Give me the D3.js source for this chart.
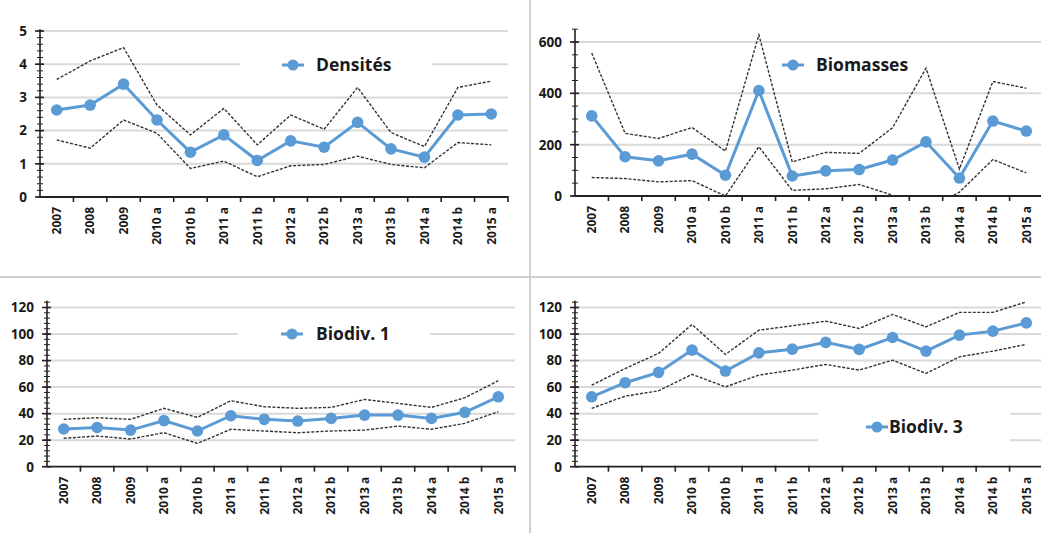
<!DOCTYPE html>
<html>
<head>
<meta charset="utf-8">
<script src="https://cdn.jsdelivr.net/npm/d3@7"></script>
<style>
  html, body { margin: 0; padding: 0; background: #fff; }
  svg { display: block; }
  text { font-family: "Open Sans", "Liberation Sans", sans-serif; font-weight: bold; fill: #1a1a1a; }
</style>
</head>
<body>
<svg id="chart" width="1041" height="533"></svg>
<script>
const categories = ["2007","2008","2009","2010 a","2010 b","2011 a","2011 b","2012 a","2012 b","2013 a","2013 b","2014 a","2014 b","2015 a"];

const densMean = [2.62,2.77,3.40,2.32,1.35,1.87,1.10,1.69,1.50,2.25,1.45,1.20,2.47,2.50];
const densHigh = [3.54,4.10,4.50,2.77,1.87,2.67,1.57,2.47,2.04,3.30,1.94,1.52,3.30,3.49];
const densLow  = [1.72,1.47,2.32,1.92,0.86,1.08,0.61,0.94,0.98,1.23,0.98,0.88,1.64,1.57];
const densTicks = [0,1,2,3,4,5];

const bioMean = [312,153,137,163,81,411,78,98,103,140,211,70,292,253];
const bioHigh = [557,244,224,267,175,628,133,170,166,266,498,105,446,420];
const bioLow  = [72,68,55,60,0,192,22,28,45,3,-60,15,142,90];
const bioTicks = [0,200,400,600];

const bd1Mean = [28.4,29.6,27.6,34.7,26.9,38.4,35.7,34.4,36.4,38.9,38.9,36.4,41.0,52.7];
const bd1High = [35.7,36.9,35.7,44.0,37.2,49.7,45.2,44.0,44.7,50.7,47.7,44.7,52.0,64.8];
const bd1Low  = [21.4,23.1,20.9,25.6,17.6,28.2,26.9,25.6,26.9,27.6,30.6,28.2,32.7,41.4];
const bd1Ticks = [0,20,40,60,80,100,120];

const bd3Mean = [52.7,63.3,71.1,87.9,72.1,85.8,88.6,93.7,88.4,97.4,87.1,99.2,102.2,108.4];
const bd3High = [61.5,74.0,85.4,107.2,84.6,102.9,106.2,109.7,104.2,114.8,105.4,116.3,116.3,124.2];
const bd3Low  = [44.0,53.2,57.2,69.6,60.2,69.0,72.8,77.1,72.8,80.3,70.3,82.8,87.1,92.2];
const bd3Ticks = [0,20,40,60,80,100,120];

const seriesNames = ["Densités","Biomasses","Biodiv. 1","Biodiv. 3"];

const BLUE = "#5b9bd5";
const svg = d3.select("#chart");

// panel dividers
svg.append("line").attr("x1",530).attr("x2",530).attr("y1",0).attr("y2",533)
  .attr("stroke","#cfcfcf").attr("stroke-width",2);
svg.append("line").attr("x1",0).attr("x2",1041).attr("y1",277).attr("y2",277)
  .attr("stroke","#cfcfcf").attr("stroke-width",2);

function panel(cfg, idx) {
  const g = svg.append("g");
  const x = d3.scaleBand().domain(categories).range([cfg.x0, cfg.x1]);
  const y = d3.scaleLinear().domain([0, cfg.max]).range([cfg.y0, cfg.yMaxPx]);
  const cx = c => x(c) + x.bandwidth()/2;

  // gridlines
  cfg.ticks.filter(t => t > 0).forEach(t => {
    g.append("line").attr("x1", cfg.x0).attr("x2", cfg.x1)
      .attr("y1", y(t)).attr("y2", y(t))
      .attr("stroke", "#d9d9d9").attr("stroke-width", 2);
  });

  // legend background (hides gridlines behind it)
  const lg = cfg.legend;
  g.append("rect").attr("x", lg.bx0).attr("y", lg.by0)
    .attr("width", lg.bx1 - lg.bx0).attr("height", lg.by1 - lg.by0).attr("fill", "#fff");

  // y axis line + ticks
  const ax = g.append("g").attr("stroke", "#222");
  ax.append("line").attr("x1", cfg.x0).attr("x2", cfg.x0)
    .attr("y1", y(0)).attr("y2", y(cfg.axisTop)).attr("stroke-width", 1.6);
  d3.range(0, cfg.axisTop + 1e-9, cfg.minor).forEach(v => {
    ax.append("line").attr("x1", cfg.x0 - 3).attr("x2", cfg.x0 + 3)
      .attr("y1", y(v)).attr("y2", y(v)).attr("stroke-width", 1);
  });
  cfg.ticks.forEach(t => {
    ax.append("line").attr("x1", cfg.x0 - 5).attr("x2", cfg.x0 + 4)
      .attr("y1", y(t)).attr("y2", y(t)).attr("stroke-width", 1.6);
    g.append("text").attr("x", cfg.x0 - 13).attr("y", y(t)).attr("dy", "0.36em")
      .attr("text-anchor", "end").attr("font-size", 13.5).text(t);
  });

  // x axis line + ticks
  ax.append("line").attr("x1", cfg.x0).attr("x2", cfg.x1)
    .attr("y1", y(0)).attr("y2", y(0)).attr("stroke-width", 1.8);
  categories.forEach((c, i) => {
    const bx = x(c) + x.bandwidth();
    ax.append("line").attr("x1", bx).attr("x2", bx)
      .attr("y1", y(0) - 1).attr("y2", y(0) + 5).attr("stroke-width", 1.6);
    g.append("text")
      .attr("transform", `translate(${cx(c)},${y(0) + 10}) rotate(-90)`)
      .attr("dy", "0.36em").attr("text-anchor", "end")
      .attr("font-size", 12).text(c);
  });

  // clip
  const clipId = "clip" + idx;
  svg.append("clipPath").attr("id", clipId).append("rect")
    .attr("x", cfg.x0).attr("y", y(cfg.axisTop) - 5)
    .attr("width", cfg.x1 - cfg.x0).attr("height", y(0) - y(cfg.axisTop) + 5);

  const line = d3.line().x((d, i) => cx(categories[i])).y(d => y(d));
  const lines = g.append("g").attr("clip-path", `url(#${clipId})`);
  [cfg.high, cfg.low].forEach(arr => {
    lines.append("path").attr("d", line(arr)).attr("fill", "none")
      .attr("stroke", "#333").attr("stroke-width", 1.4)
      .attr("stroke-dasharray", "3,1.6");
  });
  g.append("path").attr("d", line(cfg.mean)).attr("fill", "none")
    .attr("stroke", BLUE).attr("stroke-width", 3);
  g.selectAll(null).data(cfg.mean).join("circle")
    .attr("cx", (d, i) => cx(categories[i])).attr("cy", d => y(d))
    .attr("r", 5.8).attr("fill", BLUE);

  // legend
  g.append("line").attr("x1", lg.mx - 11).attr("x2", lg.mx + 11)
    .attr("y1", lg.y).attr("y2", lg.y).attr("stroke", BLUE).attr("stroke-width", 3);
  g.append("circle").attr("cx", lg.mx).attr("cy", lg.y).attr("r", 5.5).attr("fill", BLUE);
  g.append("text").attr("x", lg.tx).attr("y", lg.y).attr("dy", "0.36em")
    .attr("font-size", 17.5).text(seriesNames[idx]);
}

panel({x0: 40, x1: 508, y0: 197, yMaxPx: 31, max: 5, axisTop: 5.05, minor: 0.2,
  ticks: densTicks, mean: densMean, high: densHigh, low: densLow,
  legend: {bx0: 240, bx1: 432, by0: 50, by1: 80, mx: 293, tx: 316, y: 65}}, 0);

panel({x0: 575, x1: 1043, y0: 196, yMaxPx: 42, max: 600, axisTop: 650, minor: 50,
  ticks: bioTicks, mean: bioMean, high: bioHigh, low: bioLow,
  legend: {bx0: 780, bx1: 912, by0: 52, by1: 80, mx: 793, tx: 816, y: 65}}, 1);

panel({x0: 47, x1: 515, y0: 466.7, yMaxPx: 307.5, max: 120, axisTop: 125, minor: 4,
  ticks: bd1Ticks, mean: bd1Mean, high: bd1High, low: bd1Low,
  legend: {bx0: 238, bx1: 430, by0: 320, by1: 348, mx: 292, tx: 316, y: 334}}, 2);

panel({x0: 575, x1: 1043, y0: 466.7, yMaxPx: 307.5, max: 120, axisTop: 125, minor: 4,
  ticks: bd3Ticks, mean: bd3Mean, high: bd3High, low: bd3Low,
  legend: {bx0: 818, bx1: 1010, by0: 400, by1: 452, mx: 877, tx: 889, y: 427}}, 3);
</script>
</body>
</html>
